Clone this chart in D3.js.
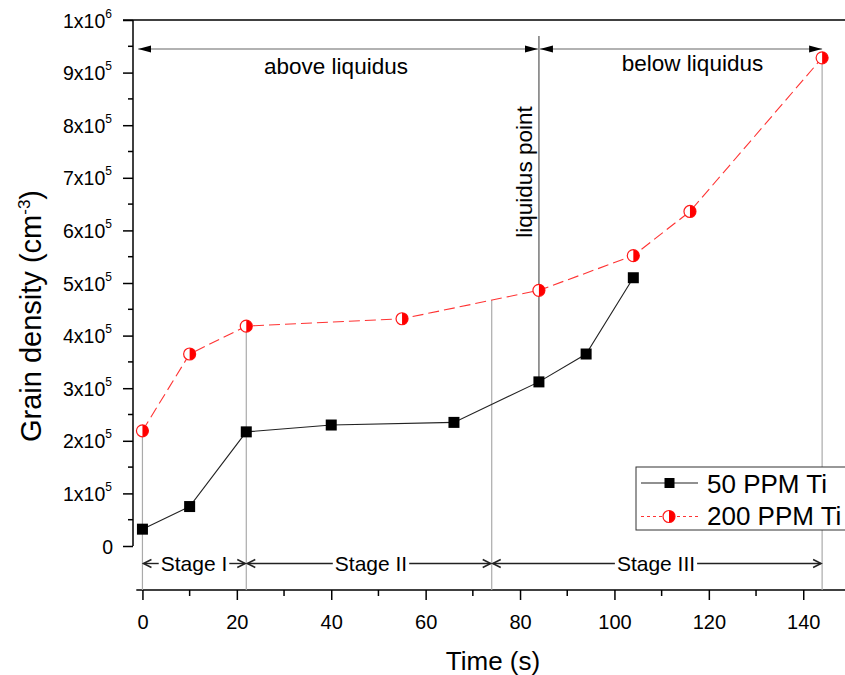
<!DOCTYPE html>
<html>
<head>
<meta charset="utf-8">
<script src="https://cdn.jsdelivr.net/npm/d3@7"></script>
<style>
  body { margin: 0; background: #fff; }
  svg { font-family: "Liberation Sans", Arial, sans-serif; }
</style>
</head>
<body>
<div id="chart"></div>
<script>
// data
var time50 = [0, 10, 22, 40, 66, 84, 94, 104];
var dens50 = [3.2e4, 7.5e4, 2.17e5, 2.3e5, 2.35e5, 3.12e5, 3.65e5, 5.1e5];
var time200 = [0, 10, 22, 55, 84, 104, 116, 144];
var dens200 = [2.19e5, 3.65e5, 4.18e5, 4.32e5, 4.86e5, 5.52e5, 6.36e5, 9.28e5];
var seriesNames = ["50 PPM Ti", "200 PPM Ti"];

// guide lines (time, top value)
var guideTimes = [0, 22, 74, 144];
var guideTops = [2.19e5, 4.18e5, 4.67e5, 9.28e5];
var liquidusTime = 84;
var liquidusBottom = 3.12e5;

var stageNames = ["Stage I", "Stage II", "Stage III"];
var stageBounds = [0, 22, 74, 144];

var xTicks = [0, 20, 40, 60, 80, 100, 120, 140];
var yTicks = [0, 1e5, 2e5, 3e5, 4e5, 5e5, 6e5, 7e5, 8e5, 9e5, 1e6];

var width = 845, height = 675;
var svg = d3.select("#chart").append("svg").attr("width", width).attr("height", height);

var x = d3.scaleLinear().domain([-2, 150]).range([133, 133 + 152 * 4.72]);
var y = d3.scaleLinear().domain([0, 1e6]).range([546, 20]);
var xAxisY = 590;

var defs = svg.append("defs");
// filled arrowhead for the liquidus arrows
defs.append("marker").attr("id", "fillArrow").attr("viewBox", "0 -4 13 8")
  .attr("refX", 13).attr("refY", 0).attr("markerWidth", 13).attr("markerHeight", 8)
  .attr("markerUnits", "userSpaceOnUse").attr("orient", "auto-start-reverse")
  .append("path").attr("d", "M0,-3.5L13,0L0,3.5Z").attr("fill", "#000");
// open chevron for stage arrows
defs.append("marker").attr("id", "openArrow").attr("viewBox", "-1 -6 12 12")
  .attr("refX", 9).attr("refY", 0).attr("markerWidth", 12).attr("markerHeight", 12)
  .attr("markerUnits", "userSpaceOnUse").attr("orient", "auto-start-reverse")
  .append("path").attr("d", "M1,-4L9,0L1,4").attr("fill", "none")
  .attr("stroke", "#222").attr("stroke-width", 1.5);
// clip for the half filled circle
defs.append("clipPath").attr("id", "rightHalf")
  .append("rect").attr("x", 0).attr("y", -10).attr("width", 10).attr("height", 20);

// top frame line
svg.append("line").attr("x1", 123).attr("x2", width).attr("y1", y(1e6)).attr("y2", y(1e6))
  .attr("stroke", "#000").attr("stroke-width", 1.5);

// y axis
var yAxis = d3.axisLeft(y).tickValues(yTicks).tickSize(10).tickFormat("");
var yAxisG = svg.append("g").attr("transform", "translate(133,0)").call(yAxis);
yAxisG.select(".domain").attr("stroke-width", 1.5).attr("d", "M0," + y(0) + "V" + y(1e6));
yAxisG.selectAll(".tick line").attr("stroke-width", 1.5);
var yMinor = d3.range(0, 10).map(function (i) { return i * 1e5 + 5e4; });
yAxisG.selectAll(".minor").data(yMinor).enter().append("line")
  .attr("x1", -5).attr("x2", 0).attr("y1", function (d) { return y(d); }).attr("y2", function (d) { return y(d); })
  .attr("stroke", "#000").attr("stroke-width", 1.5);

var yLab = svg.append("g").selectAll("text").data(yTicks).enter().append("text")
  .attr("x", 112).attr("y", function (d) { return y(d) + 7.5; })
  .attr("text-anchor", "end").attr("font-size", 19.5).attr("fill", "#000");
yLab.each(function (d) {
  var t = d3.select(this);
  if (d === 0) { t.attr("x", 113).text("0"); return; }
  var exp = Math.floor(Math.log10(d) + 1e-9);
  var mant = Math.round(d / Math.pow(10, exp));
  t.append("tspan").text(mant + "x10");
  t.append("tspan").attr("dy", -10).attr("font-size", 12).text(exp);
});

// x axis
var xAxis = d3.axisBottom(x).tickValues(xTicks).tickSize(10).tickPadding(6).tickFormat(d3.format("d"));
var xAxisG = svg.append("g").attr("transform", "translate(0," + xAxisY + ")").call(xAxis);
xAxisG.select(".domain").attr("stroke-width", 1.5).attr("d", "M" + x(-1.3) + ",0H" + width);
xAxisG.selectAll(".tick line").attr("stroke-width", 1.5);
xAxisG.selectAll(".tick text").attr("font-size", 20).attr("dy", null).attr("y", 39)
  .attr("font-family", "Liberation Sans, Arial, sans-serif").attr("fill", "#000");
var xMinor = d3.range(10, 150, 20);
xAxisG.selectAll(".minor").data(xMinor).enter().append("line")
  .attr("x1", function (d) { return x(d); }).attr("x2", function (d) { return x(d); })
  .attr("y1", 0).attr("y2", 6).attr("stroke", "#000").attr("stroke-width", 1.5);

// axis titles
svg.append("text").attr("x", 493).attr("y", 670).attr("text-anchor", "middle")
  .attr("font-size", 26).text("Time (s)");
var yTitle = svg.append("text").attr("transform", "translate(41,316) rotate(-90)")
  .attr("text-anchor", "middle").attr("font-size", 29);
yTitle.append("tspan").text("Grain density (cm");
yTitle.append("tspan").attr("dy", -11).attr("font-size", 17).text("-3");
yTitle.append("tspan").attr("dy", 11).text(")");

// gray guide lines
svg.append("g").selectAll("line").data(guideTimes).enter().append("line")
  .attr("x1", function (d) { return x(d); }).attr("x2", function (d) { return x(d); })
  .attr("y1", function (d, i) { return y(guideTops[i]); }).attr("y2", xAxisY)
  .attr("stroke", "#aaa").attr("stroke-width", 1.2);
// liquidus line
svg.append("line").attr("x1", x(liquidusTime)).attr("x2", x(liquidusTime))
  .attr("y1", 36).attr("y2", y(liquidusBottom)).attr("stroke", "#777").attr("stroke-width", 1.5);

// liquidus arrows
var topY = 49;
svg.append("line").attr("x1", x(-0.9)).attr("x2", x(liquidusTime) - 1).attr("y1", topY).attr("y2", topY)
  .attr("stroke", "#666").attr("stroke-width", 1.2)
  .attr("marker-start", "url(#fillArrow)").attr("marker-end", "url(#fillArrow)");
svg.append("line").attr("x1", x(liquidusTime) + 1).attr("x2", x(144)).attr("y1", topY).attr("y2", topY)
  .attr("stroke", "#666").attr("stroke-width", 1.2)
  .attr("marker-start", "url(#fillArrow)").attr("marker-end", "url(#fillArrow)");
svg.append("text").attr("x", 336).attr("y", 74).attr("text-anchor", "middle").attr("font-size", 22.5).text("above liquidus");
svg.append("text").attr("x", 692.5).attr("y", 71).attr("text-anchor", "middle").attr("font-size", 22.5).text("below liquidus");
svg.append("text").attr("transform", "translate(532,172) rotate(-90)").attr("text-anchor", "middle")
  .attr("font-size", 22.5).text("liquidus point");

// stage arrows
var stageY = 563.5;
var stageMid = [194, 371, 656];
stageNames.forEach(function (name, i) {
  var t = svg.append("text").attr("x", stageMid[i]).attr("y", stageY + 7.5).attr("text-anchor", "middle")
    .attr("font-size", 21).text(name);
  var w = t.node().getComputedTextLength();
  var x0 = x(stageBounds[i]) + 1, x1 = x(stageBounds[i + 1]) - 1;
  svg.append("line").attr("x1", stageMid[i] - w / 2 - 2).attr("x2", x0).attr("y1", stageY).attr("y2", stageY)
    .attr("stroke", "#222").attr("stroke-width", 1.4).attr("marker-end", "url(#openArrow)");
  svg.append("line").attr("x1", stageMid[i] + w / 2 + 2).attr("x2", x1).attr("y1", stageY).attr("y2", stageY)
    .attr("stroke", "#222").attr("stroke-width", 1.4).attr("marker-end", "url(#openArrow)");
});

// series
var line = d3.line().x(function (d) { return x(d[0]); }).y(function (d) { return y(d[1]); });
var pts50 = d3.zip(time50, dens50);
var pts200 = d3.zip(time200, dens200);

svg.append("path").datum(pts200).attr("d", line).attr("fill", "none")
  .attr("stroke", "#ff3333").attr("stroke-width", 1.1).attr("stroke-dasharray", "11,5");
svg.append("path").datum(pts50).attr("d", line).attr("fill", "none")
  .attr("stroke", "#222").attr("stroke-width", 1.1);

function halfCircle(g) {
  g.append("circle").attr("r", 6).attr("fill", "#fff").attr("stroke", "#ff1a1a").attr("stroke-width", 1.2);
  g.append("circle").attr("r", 6).attr("fill", "#ff0000").attr("clip-path", "url(#rightHalf)");
}

svg.append("g").selectAll("rect").data(pts50).enter().append("rect")
  .attr("x", function (d) { return x(d[0]) - 5.5; }).attr("y", function (d) { return y(d[1]) - 5.5; })
  .attr("width", 11).attr("height", 11).attr("fill", "#000");

svg.append("g").selectAll("g").data(pts200).enter().append("g")
  .attr("transform", function (d) { return "translate(" + x(d[0]) + "," + y(d[1]) + ")"; })
  .call(halfCircle);

// legend
var leg = svg.append("g");
leg.append("rect").attr("x", 636).attr("y", 467).attr("width", 220).attr("height", 63)
  .attr("fill", "#fff").attr("stroke", "#333").attr("stroke-width", 1);
leg.append("line").attr("x1", 641).attr("x2", 698).attr("y1", 483).attr("y2", 483)
  .attr("stroke", "#222").attr("stroke-width", 1.1);
leg.append("rect").attr("x", 664.5).attr("y", 478).attr("width", 10).attr("height", 10).attr("fill", "#000");
leg.append("line").attr("x1", 641).attr("x2", 698).attr("y1", 516.5).attr("y2", 516.5)
  .attr("stroke", "#ff3333").attr("stroke-width", 1.1).attr("stroke-dasharray", "3,3");
leg.append("g").attr("transform", "translate(669,516.5)").call(halfCircle);
leg.selectAll("text.lab").data(seriesNames).enter().append("text").attr("class", "lab")
  .attr("x", 707).attr("y", function (d, i) { return 493 + i * 32; })
  .attr("font-size", 26).text(function (d) { return d; });
</script>
</body>
</html>
